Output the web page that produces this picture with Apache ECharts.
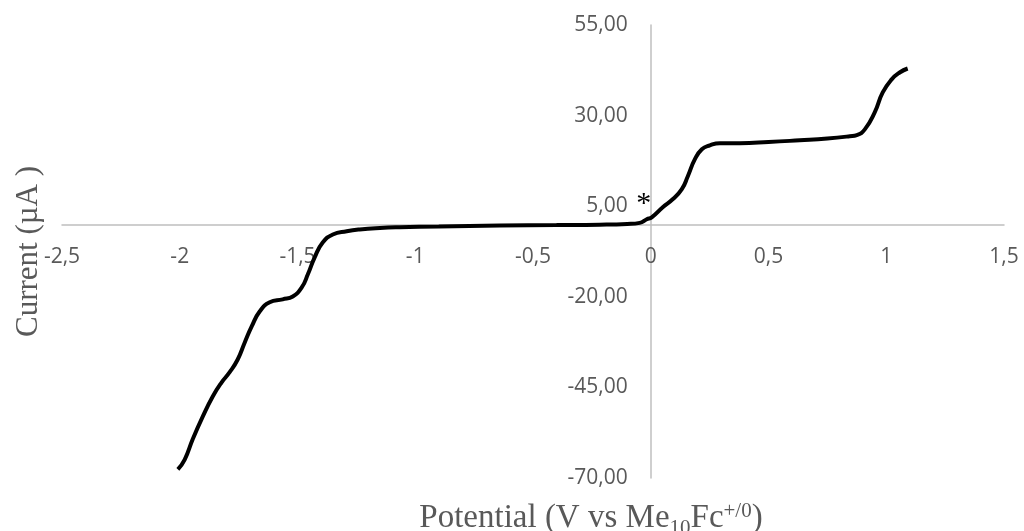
<!DOCTYPE html>
<html>
<head>
<meta charset="utf-8">
<script src="https://cdn.jsdelivr.net/npm/echarts@6/dist/echarts.min.js"></script>
<style>html,body{margin:0;padding:0;background:#fff}#chart{width:1024px;height:531px}</style>
</head>
<body>
<div id="chart"></div>
<script>
// Potential (V vs Me10Fc+/0)
const potential = [-2.008, -1.979, -1.945, -1.902, -1.860, -1.822, -1.788, -1.754, -1.724, -1.694,
  -1.660, -1.618, -1.563, -1.520, -1.482, -1.456, -1.427, -1.393, -1.350, -1.291,
  -1.236, -1.150, -1.066, -0.900, -0.641, -0.400, -0.217, -0.100, -0.047, -0.017,
  0.004, 0.051, 0.093, 0.132, 0.157, 0.187, 0.217, 0.251, 0.293, 0.378,
  0.500, 0.633, 0.750, 0.845, 0.875, 0.909, 0.951, 0.985, 1.023, 1.057, 1.091];
// Current (µA)
const current = [-67.6, -64.9, -59.3, -53.0, -47.5, -43.6, -40.8, -37.3, -32.6, -28.1,
  -24.0, -21.5, -20.7, -19.9, -17.4, -13.8, -9.1, -5.0, -2.8, -1.9,
  -1.4, -1.0, -0.8, -0.6, -0.3, -0.2, -0.1, 0.1, 0.4, 1.4,
  1.9, 4.7, 6.9, 9.7, 13.2, 17.9, 20.7, 21.8, 22.4, 22.4,
  22.7, 23.2, 23.7, 24.3, 24.6, 26.2, 30.9, 36.4, 40.0, 41.9, 43.0];
const xTicks = {min: -2.5, max: 1.5, interval: 0.5};
const yTicks = {min: -70, max: 55, interval: 25};
const starMark = [-0.03, 5.6];

const data = potential.map((x, i) => [x, current[i]]);
const gray = '#595959';
const chart = echarts.init(document.getElementById('chart'), null, {renderer: 'canvas'});
chart.setOption({
  animation: false,
  backgroundColor: '#ffffff',
  grid: {left: 62, right: 20, top: 25, bottom: 53, containLabel: false, outerBoundsMode: 'none'},
  xAxis: {
    type: 'value', min: xTicks.min, max: xTicks.max, interval: xTicks.interval,
    axisLine: {onZero: false, lineStyle: {color: '#bfbfbf', width: 1.5}},
    axisTick: {show: false}, splitLine: {show: false},
    axisLabel: {margin: 22, color: gray, fontFamily: 'Open Sans', fontSize: 21,
      formatter: v => String(v).replace('.', ',')},
    name: '{m|Potential (V vs Me}{sub|10}{m|Fc}{sup|+/0}{m|)}',
    nameLocation: 'middle', nameGap: 273,
    nameTextStyle: {
      padding: [0, 0, 0, 116],
      rich: {
        m: {fontFamily: 'Liberation Serif', fontSize: 33, color: gray, lineHeight: 42, verticalAlign: 'middle'},
        sub: {fontFamily: 'Liberation Serif', fontSize: 21, color: gray, lineHeight: 42, verticalAlign: 'bottom'},
        sup: {fontFamily: 'Liberation Serif', fontSize: 21, color: gray, lineHeight: 42, verticalAlign: 'top', padding: [4,0,0,0]}
      }
    }
  },
  yAxis: {
    type: 'value', min: yTicks.min, max: yTicks.max, interval: yTicks.interval,
    axisLine: {onZero: false, lineStyle: {color: '#bfbfbf', width: 1.5}},
    axisTick: {show: false}, splitLine: {show: false},
    axisLabel: {margin: 23, color: gray, fontFamily: 'Open Sans', fontSize: 21,
      formatter: v => v.toFixed(2).replace('.', ',')},
    name: 'Current (µA )',
    nameLocation: 'middle', nameGap: 606,
    nameTextStyle: {fontFamily: 'Liberation Serif', fontSize: 31, color: gray, padding: [0, 0, 0, 0]}
  },
  series: [{
    type: 'line', data: data, showSymbol: false, smooth: 0.5,
    lineStyle: {color: '#000000', width: 4},
    markPoint: {
      symbol: 'circle', symbolSize: 0, silent: true,
      label: {show: true, formatter: '*', color: '#000', fontFamily: 'Liberation Serif', fontSize: 30, position: 'inside'},
      data: [{coord: starMark}]
    }
  }]
});
// move both axes so they cross at the origin, using the library's own scales
const px0 = chart.convertToPixel({xAxisIndex: 0}, 0);
const pxMin = chart.convertToPixel({xAxisIndex: 0}, xTicks.min);
const py0 = chart.convertToPixel({yAxisIndex: 0}, 0);
const pyMin = chart.convertToPixel({yAxisIndex: 0}, yTicks.min);
chart.setOption({
  xAxis: {offset: -(pyMin - py0)},
  yAxis: {offset: -(px0 - pxMin)}
});
</script>
</body>
</html>
